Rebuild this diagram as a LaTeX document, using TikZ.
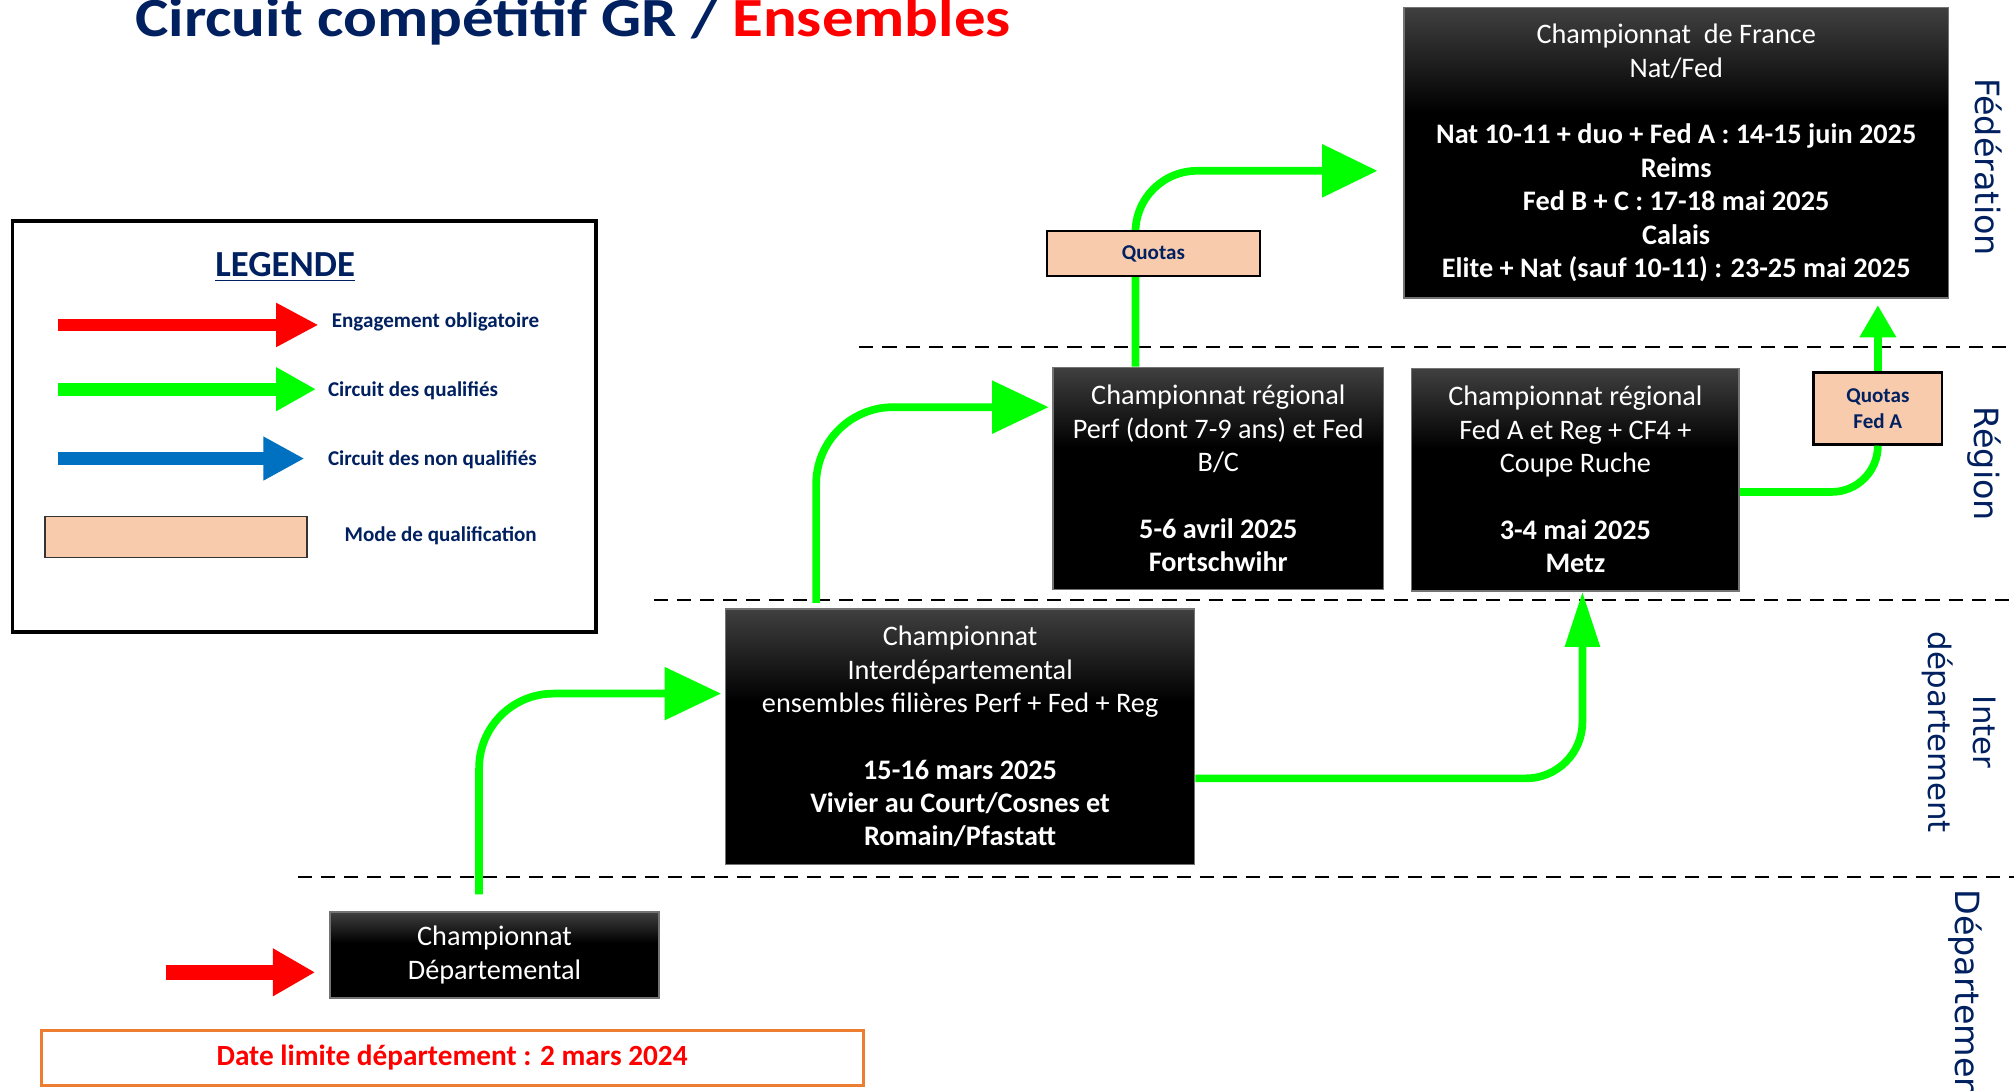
\documentclass[tikz,border=0pt]{standalone}
\usepackage{fontspec}
\usepackage{graphicx}
\setmainfont{Carlito}
\newfontfamily\verdana{DejaVu Sans}
\usetikzlibrary{arrows.meta,calc}
\definecolor{navy}{HTML}{002060}
\definecolor{flash}{HTML}{00FF00}
\definecolor{bleu}{HTML}{0070C0}
\definecolor{peche}{HTML}{F8CBAD}
\definecolor{orangeline}{HTML}{ED7D31}
\pgfdeclareverticalshading{boxshade}{100bp}{color(0bp)=(black); color(57bp)=(black); color(75bp)=(black!75); color(100bp)=(black!75)}
\begin{document}
\begin{tikzpicture}
[x=0.5pt, y=-0.5pt,
 box/.style={draw=black!55, line width=0.6pt, shading=boxshade, text=white, align=center, inner sep=0pt, font=\fontsize{11}{13}\selectfont},
 quota/.style={draw=black, line width=1pt, fill=peche, text=navy, align=center, inner sep=0pt, font=\bfseries\fontsize{8.2}{10}\selectfont},
 flow/.style={draw=flash, line width=3pt, rounded corners=#1},
 flow/.default=20pt,
 legtext/.style={anchor=west, inner sep=0pt, text=navy, font=\bfseries\fontsize{8.2}{10}\selectfont},
 side/.style={rotate=-90, text=navy, inner sep=0pt, align=center, font=\verdana\fontsize{13}{17.5}\selectfont},
 frontier/.style={dash pattern=on 5.5pt off 3.5pt, line width=0.75pt}]
\path[use as bounding box, fill=white] (0,0) rectangle (1568,849);

\node[anchor=base west, inner sep=0pt, text=navy, font=\bfseries\fontsize{21.5}{26}\selectfont] (titre) at (105,28.5) {\scalebox{1.14}[1]{Circuit compétitif GR / \textcolor{red}{Ensembles}}};

\draw[line width=1.25pt] (10,172) rectangle (464,492);
\node[inner sep=0pt, text=navy, font=\bfseries\fontsize{14.3}{16}\selectfont] (legende) at (222,208) {\underline{LEGENDE}};
\node[legtext] (leg1) at (258,251) {Engagement obligatoire};
\node[legtext] (leg2) at (255,304) {Circuit des qualifiés};
\node[legtext] (leg3) at (255,358) {Circuit des non qualifiés};
\node[legtext] (leg4) at (268,417) {Mode de qualification};
\node[draw=black!80, line width=0.6pt, fill=peche, minimum width=102pt, minimum height=16pt, inner sep=0pt] (mode) at (137,418) {};
\coordinate (l1) at (45,253);
\coordinate (l2) at (45,303);
\coordinate (l3) at (45,357);
\draw[red, line width=5pt, shorten >=5pt, -{Triangle[length=16.5pt,width=16pt]}] (l1) -- (l1 -| leg1.west);
\draw[flash, line width=5pt, shorten >=4.5pt, -{Triangle[length=15.5pt,width=16pt]}] (l2) -- (l2 -| leg2.west);
\draw[bleu, line width=5pt, shorten >=9pt, -{Triangle[length=16pt,width=16pt]}] (l3) -- (l3 -| leg3.west);

\draw[frontier] (669,270) -- (1568,270);
\draw[frontier] (509,467) -- (1568,467);
\draw[frontier] (232,683) -- (1568,683);

\node[box, minimum width=212pt, minimum height=113pt] (france) at (1305,119)
{Championnat\ \ de France\\Nat/Fed\\[13pt]\textbf{Nat 10-11 + duo + Fed A : 14-15 juin 2025}\\\textbf{Reims}\\\textbf{Fed B + C : 17-18 mai 2025}\\\textbf{Calais}\\\textbf{Elite + Nat (sauf 10-11) : 23-25 mai 2025}};
\node[box, minimum width=128.5pt, minimum height=86.5pt] (reg1) at (948.5,372.5)
{Championnat régional\\Perf (dont 7-9 ans) et Fed\\B/C\\[13pt]\textbf{5-6 avril 2025}\\\textbf{Fortschwihr}};
\node[box, minimum width=127.5pt, minimum height=86.5pt] (reg2) at (1226.5,373.5)
{Championnat régional\\Fed A et Reg + CF4 +\\Coupe Ruche\\[13pt]\textbf{3-4 mai 2025}\\\textbf{Metz}};
\node[box, minimum width=182.5pt, minimum height=99.5pt] (inter) at (747.5,573.5)
{Championnat\\Interdépartemental\\ensembles filières Perf + Fed + Reg\\[13pt]\textbf{15-16 mars 2025}\\\textbf{Vivier au Court/Cosnes et}\\\textbf{Romain/Pfastatt}};
\node[box, minimum width=128pt, minimum height=33.5pt] (dep) at (385,743.5)
{Championnat\\Départemental};
\node[quota, minimum width=50pt, minimum height=28pt] (q2) at (1462,318) {Quotas\\Fed A};

\draw[flow=29pt, -{Triangle[length=22pt,width=20pt]}] ([xshift=-6pt,yshift=6.5pt]dep.north) |- ([xshift=-1.5pt,yshift=16.75pt]inter.west);
\draw[flow=30pt, -{Triangle[length=22pt,width=20pt]}] ([xshift=35.5pt,yshift=2pt]inter.north west) |- ([xshift=-1.5pt,yshift=27.75pt]reg1.west);
\draw[flow=24pt, -{Triangle[length=21.5pt,width=20pt]}] ([xshift=-32.25pt]reg1.north) |- ([xshift=-10pt,yshift=-7pt]france.west);
\draw[flow=22pt, -{Triangle[length=21.5pt,width=13pt]}] ([yshift=-16.25pt]inter.east) -| ([xshift=2.75pt]reg2.south);
\draw[flow=18pt] ([yshift=-4.75pt]reg2.east) -| (q2.south);
\draw[flow, shorten >=2.5pt, -{Triangle[length=12.5pt,width=13.5pt]}] (q2.north) -- (q2.north |- france.south);

\node[quota, minimum width=83pt, minimum height=17.5pt] (q1) at (898,197.5) {Quotas};

\coordinate (entree) at (129,757);
\draw[red, line width=6pt, shorten >=5.5pt, -{Triangle[length=16.5pt,width=17.5pt]}] (entree) -- (entree -| dep.west);

\node[draw=orangeline, line width=1.2pt, minimum width=320pt, minimum height=21.5pt, inner sep=0pt, text=red, font=\bfseries\fontsize{11.4}{13}\selectfont] (date) at (352,823.5) {Date limite département : 2 mars 2024};

\node[side] (fed) at (1548,130) {Fédération};
\node[side] (region) at (1545,361) {Région};
\node[side, font=\verdana\fontsize{12}{17.5}\selectfont] (interlab) at (1525,570) {Inter\\département};
\node[side, anchor=west] (deplab) at (1530,692) {Département};
\end{tikzpicture}
\end{document}
